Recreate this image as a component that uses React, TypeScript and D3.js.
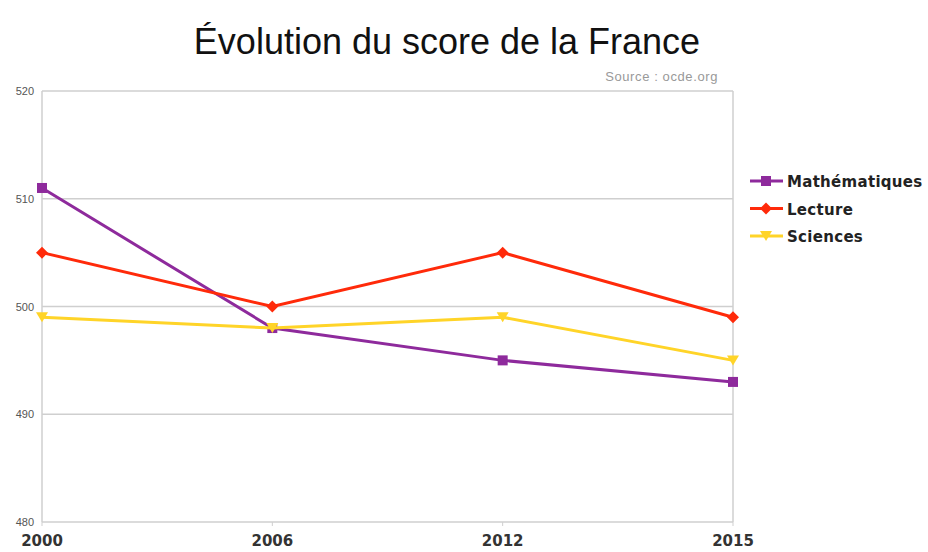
import React from "react";
import * as d3 from "d3";

const years = ["2000", "2006", "2012", "2015"];
const mathValues = [511, 498, 495, 493];
const lectureValues = [505, 500, 505, 499];
const sciencesValues = [499, 498, 499, 495];
const yTicks = [480, 490, 500, 510, 520];
const seriesNames = ["Mathématiques", "Lecture", "Sciences"];
const seriesColors = ["#8e2a9c", "#ff2a0a", "#ffd428"];
const seriesShapes = ["square", "diamond", "triangle"];

const W = 928;
const H = 552;
const M = { left: 42, right: 733, top: 91, bottom: 522 };

export default function App() {
  const x = d3.scalePoint<string>().domain(years).range([M.left, M.right]);
  const y = d3.scaleLinear().domain([480, 520]).range([M.bottom, M.top]);
  const line = d3
    .line<number>()
    .x((_, i) => x(years[i]) as number)
    .y((d) => y(d));
  const allSeries = [mathValues, lectureValues, sciencesValues];

  const marker = (shape: string, cx: number, cy: number, color: string, key: string) => {
    if (shape === "square")
      return <rect key={key} x={cx - 5} y={cy - 5} width={10} height={10} fill={color} />;
    if (shape === "diamond")
      return (
        <path key={key} d={`M${cx},${cy - 6}L${cx + 6},${cy}L${cx},${cy + 6}L${cx - 6},${cy}Z`} fill={color} />
      );
    return (
      <path key={key} d={`M${cx - 6},${cy - 5}L${cx + 6},${cy - 5}L${cx},${cy + 5}Z`} fill={color} />
    );
  };

  return (
    <svg
      width={W}
      height={H}
      style={{ position: "absolute", left: 0, top: 0, background: "#fff" }}
      fontFamily="'Liberation Sans', Arial, sans-serif"
    >
      <text x={447} y={54} textAnchor="middle" fontSize={36} fill="#111">
        Évolution du score de la France
      </text>
      <text x={718} y={81} textAnchor="end" fontSize={13} fill="#999" letterSpacing={0.6}>
        Source  :  ocde.org
      </text>

      {yTicks.map((t) => (
        <g key={t}>
          <line x1={M.left} x2={M.right} y1={y(t)} y2={y(t)} stroke="#cfcfcf" strokeWidth={1.5} />
          <text x={34} y={y(t) + 4} textAnchor="end" fontSize={11} fill="#555">
            {t}
          </text>
        </g>
      ))}
      <line x1={M.left} x2={M.left} y1={M.top} y2={M.bottom} stroke="#cfcfcf" strokeWidth={1.5} />
      <line x1={M.right} x2={M.right} y1={M.top} y2={M.bottom} stroke="#cfcfcf" strokeWidth={1.5} />
      {years.map((yr) => (
        <g key={yr}>
          <line x1={x(yr)} x2={x(yr)} y1={M.bottom} y2={M.bottom + 4} stroke="#cfcfcf" />
          <text
            x={x(yr)}
            y={546}
            textAnchor="middle"
            fontSize={15}
            fontWeight="bold"
            fill="#333"
            fontFamily="'DejaVu Sans', sans-serif"
          >
            {yr}
          </text>
        </g>
      ))}

      {allSeries.map((vals, si) => (
        <g key={si}>
          <path d={line(vals) || ""} fill="none" stroke={seriesColors[si]} strokeWidth={3} />
          {vals.map((v, i) =>
            marker(seriesShapes[si], x(years[i]) as number, y(v), seriesColors[si], `${si}-${i}`)
          )}
        </g>
      ))}

      {seriesNames.map((name, i) => {
        const ly = 181 + i * 27.5;
        return (
          <g key={name}>
            <line x1={750} x2={783} y1={ly} y2={ly} stroke={seriesColors[i]} strokeWidth={3} />
            {marker(seriesShapes[i], 766, ly, seriesColors[i], `l${i}`)}
            <text
              x={787}
              y={ly + 6}
              fontSize={15}
              fontWeight="bold"
              fill="#222"
              fontFamily="'DejaVu Sans', sans-serif"
              letterSpacing={0.3}
            >
              {name}
            </text>
          </g>
        );
      })}
    </svg>
  );
}
